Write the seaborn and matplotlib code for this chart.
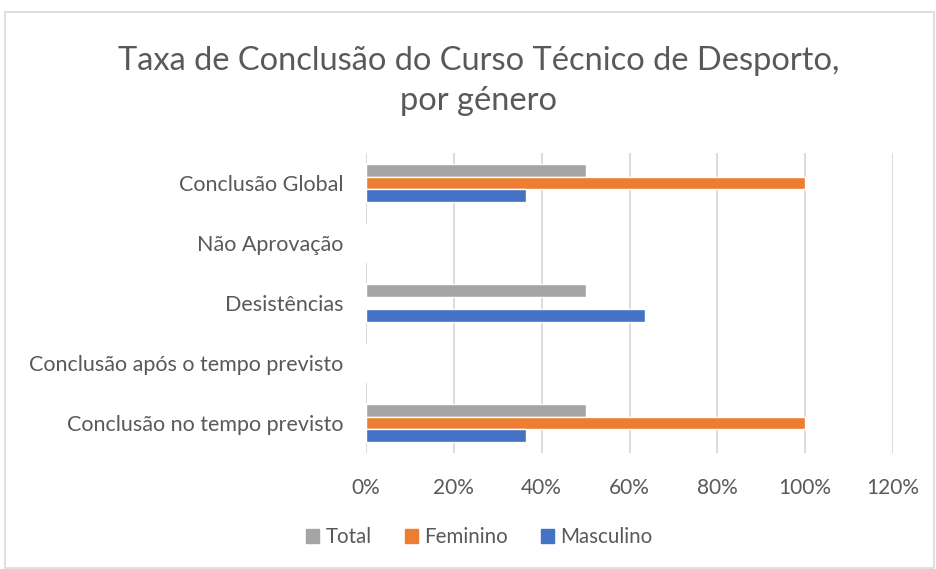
import matplotlib
matplotlib.use("Agg")
import matplotlib.pyplot as plt
import seaborn as sns
import pandas as pd
from matplotlib.patches import Rectangle

categories = ["Conclusão Global", "Não Aprovação", "Desistências",
              "Conclusão após o tempo previsto", "Conclusão no tempo previsto"]
series = ["Total", "Feminino", "Masculino"]
total = [50.0, 0.0, 50.0, 0.0, 50.0]
feminino = [100.0, 0.0, 0.0, 0.0, 100.0]
masculino = [36.4, 0.0, 63.6, 0.0, 36.4]
xticks = [0, 20, 40, 60, 80, 100, 120]
xticklabels = ["0%", "20%", "40%", "60%", "80%", "100%", "120%"]
colors = ["#A5A5A5", "#ED7D31", "#4472C4"]

rows = []
for s, vals in zip(series, [total, feminino, masculino]):
    for c, v in zip(categories, vals):
        rows.append({"cat": c, "serie": s, "val": v})
df = pd.DataFrame(rows)

sns.set_theme(style="white")
plt.rcParams["font.family"] = ["Lato", "DejaVu Sans"]
txt = "#595959"

fig = plt.figure(figsize=(9.36, 5.69), dpi=100)
ax = fig.add_axes([366/936, 1-453/569, (893-366)/936, 300/569])
sns.barplot(data=df, y="cat", x="val", hue="serie", order=categories,
            hue_order=series, palette=colors, orient="h", width=0.63,
            saturation=1, ax=ax, legend=False)
ax.set_xlim(0, 120)
ax.set_ylim(4.5, -0.5)
ax.set_xticks(xticks)
ax.set_xticklabels(xticklabels, color=txt, fontsize=15)
ax.tick_params(axis="y", labelsize=15.5, labelcolor=txt, length=0, pad=16.5)
ax.tick_params(axis="x", length=0, pad=18)
ax.set_xlabel("")
ax.set_ylabel("")
ax.grid(axis="x", color="#D9D9D9", linewidth=1.3)
ax.set_axisbelow(True)
for sp in ax.spines.values():
    sp.set_visible(False)

fig.text(0.511, 1-61/569, "Taxa de Conclusão do Curso Técnico de Desporto,",
         ha="center", va="center", fontsize=23.5, color=txt)
fig.text(0.511, 1-101/569, "por género", ha="center", va="center",
         fontsize=23.5, color=txt)

handles = [Rectangle((0, 0), 1, 1, color=c) for c in colors]
fig.legend(handles, series, loc="center", bbox_to_anchor=(0.512, 1-537/569),
           ncol=3, frameon=False, fontsize=14.8, labelcolor=txt,
           handlelength=0.65, handleheight=0.65, handletextpad=0.3,
           columnspacing=1.6)

fig.patches.append(Rectangle((5/936, 0.002), 1-5/936-0.002, 1-12/569-0.002,
                             transform=fig.transFigure, fill=False,
                             edgecolor="#D9D9D9", linewidth=1.2))
fig.savefig("out.png", dpi=100, facecolor="white")
